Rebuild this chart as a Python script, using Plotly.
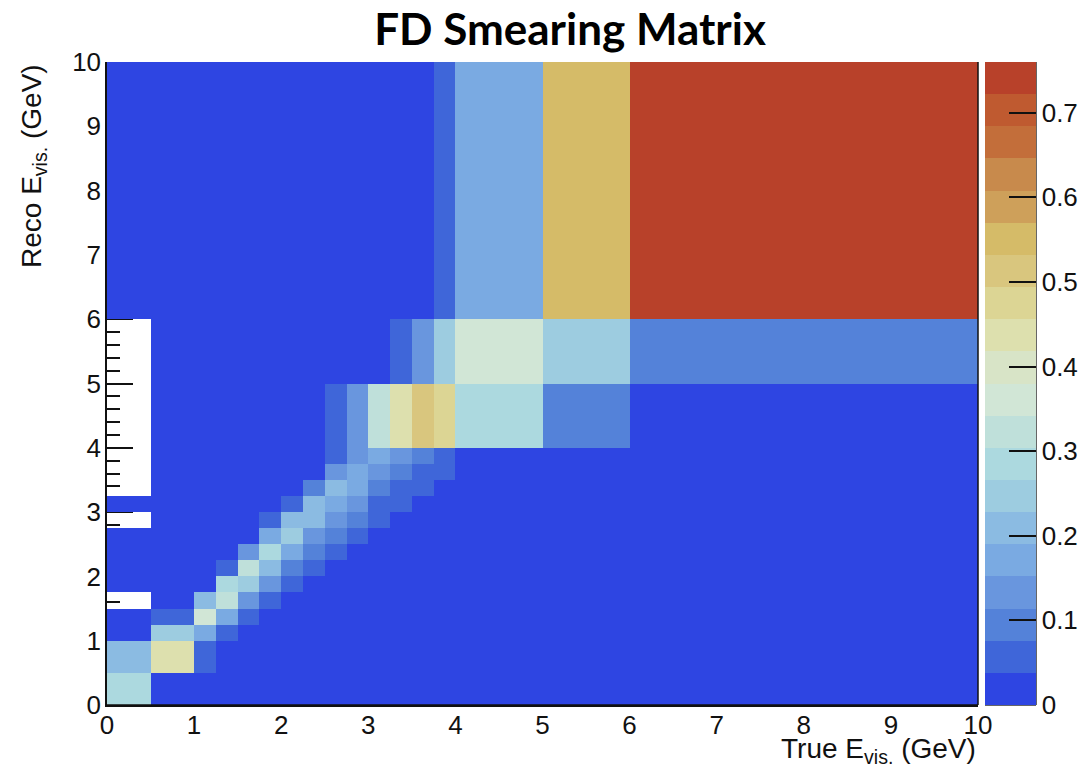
import plotly.graph_objects as go

# ---- data ----
x_edges = [0, 0.5, 1.0, 1.25, 1.5, 1.75, 2.0, 2.25, 2.5, 2.75, 3.0, 3.25, 3.5, 3.75, 4.0, 5.0, 6.0, 10.0]
y_edges = [0, 0.5, 1.0, 1.25, 1.5, 1.75, 2.0, 2.25, 2.5, 2.75, 3.0, 3.25, 3.5, 3.75, 4.0, 5.0, 6.0, 10.0]
N = None
# z[row = reco bin][col = true bin]; None = empty bin (drawn white)
z = [
    [0.28, 0.01, 0.01, 0.01, 0.01, 0.01, 0.01, 0.01, 0.01, 0.01, 0.01, 0.01, 0.01, 0.01, 0.01, 0.01, 0.01],
    [0.21, 0.44, 0.06, 0.01, 0.01, 0.01, 0.01, 0.01, 0.01, 0.01, 0.01, 0.01, 0.01, 0.01, 0.01, 0.01, 0.01],
    [0.01, 0.25, 0.17, 0.06, 0.01, 0.01, 0.01, 0.01, 0.01, 0.01, 0.01, 0.01, 0.01, 0.01, 0.01, 0.01, 0.01],
    [0.01, 0.06, 0.36, 0.17, 0.06, 0.01, 0.01, 0.01, 0.01, 0.01, 0.01, 0.01, 0.01, 0.01, 0.01, 0.01, 0.01],
    [N,    0.01, 0.21, 0.32, 0.13, 0.06, 0.01, 0.01, 0.01, 0.01, 0.01, 0.01, 0.01, 0.01, 0.01, 0.01, 0.01],
    [0.01, 0.01, 0.01, 0.28, 0.25, 0.13, 0.06, 0.01, 0.01, 0.01, 0.01, 0.01, 0.01, 0.01, 0.01, 0.01, 0.01],
    [0.01, 0.01, 0.01, 0.06, 0.32, 0.21, 0.09, 0.06, 0.01, 0.01, 0.01, 0.01, 0.01, 0.01, 0.01, 0.01, 0.01],
    [0.01, 0.01, 0.01, 0.01, 0.13, 0.28, 0.17, 0.09, 0.06, 0.01, 0.01, 0.01, 0.01, 0.01, 0.01, 0.01, 0.01],
    [0.01, 0.01, 0.01, 0.01, 0.01, 0.17, 0.25, 0.13, 0.09, 0.06, 0.01, 0.01, 0.01, 0.01, 0.01, 0.01, 0.01],
    [N,    0.01, 0.01, 0.01, 0.01, 0.06, 0.21, 0.21, 0.13, 0.09, 0.06, 0.01, 0.01, 0.01, 0.01, 0.01, 0.01],
    [0.01, 0.01, 0.01, 0.01, 0.01, 0.01, 0.06, 0.21, 0.17, 0.13, 0.06, 0.06, 0.01, 0.01, 0.01, 0.01, 0.01],
    [N,    0.01, 0.01, 0.01, 0.01, 0.01, 0.01, 0.09, 0.21, 0.17, 0.09, 0.06, 0.06, 0.01, 0.01, 0.01, 0.01],
    [N,    0.01, 0.01, 0.01, 0.01, 0.01, 0.01, 0.01, 0.13, 0.17, 0.13, 0.09, 0.06, 0.06, 0.01, 0.01, 0.01],
    [N,    0.01, 0.01, 0.01, 0.01, 0.01, 0.01, 0.01, 0.06, 0.13, 0.17, 0.13, 0.09, 0.06, 0.01, 0.01, 0.01],
    [N,    0.01, 0.01, 0.01, 0.01, 0.01, 0.01, 0.01, 0.06, 0.13, 0.32, 0.44, 0.51, 0.47, 0.28, 0.09, 0.01],
    [N,    0.01, 0.01, 0.01, 0.01, 0.01, 0.01, 0.01, 0.01, 0.01, 0.01, 0.06, 0.13, 0.25, 0.36, 0.25, 0.09],
    [0.01, 0.01, 0.01, 0.01, 0.01, 0.01, 0.01, 0.01, 0.01, 0.01, 0.01, 0.01, 0.01, 0.06, 0.17, 0.55, 0.74],
]
z_min, z_max = 0.0, 0.76
x_ticks = [0, 1, 2, 3, 4, 5, 6, 7, 8, 9, 10]
y_ticks = [0, 1, 2, 3, 4, 5, 6, 7, 8, 9, 10]
cb_ticks = [0, 0.1, 0.2, 0.3, 0.4, 0.5, 0.6, 0.7]
cb_ticklabels = ["0", "0.1", "0.2", "0.3", "0.4", "0.5", "0.6", "0.7"]

# ---- palette: 20 discrete contour levels ----
palette = [
    "#2e45e2", "#3f66d9", "#5482d9", "#6996de", "#7aaae2",
    "#8bbbe2", "#9dcce0", "#acd9df", "#bfe0da", "#d1e6d6",
    "#d8e4c7", "#dde0ae", "#dcd594", "#d9c67e", "#d5bb68",
    "#cea05a", "#c88a4c", "#c36e3a", "#bf5a30", "#b8412a",
]
n = len(palette)
colorscale = []
for i, c in enumerate(palette):
    colorscale.append([i / n, c])
    colorscale.append([(i + 1) / n, c])

W, H = 1081, 774
L, T = 107, 62
R = W - 978
B = H - 705
pw = W - L - R
ph = H - T - B

tick_font = dict(family="Liberation Sans, Arial, sans-serif", size=26, color="#111")

fig = go.Figure()
fig.add_trace(go.Heatmap(
    x=x_edges, y=y_edges, z=z,
    zmin=z_min, zmax=z_max, colorscale=colorscale,
    hoverongaps=False,
    colorbar=dict(
        x=(985 - L) / pw, xanchor="left", xpad=0,
        y=0.5, yanchor="middle", ypad=0, len=1, lenmode="fraction",
        thickness=51, thicknessmode="pixels",
        outlinewidth=0,
        tickmode="array", tickvals=cb_ticks, ticktext=cb_ticklabels,
        ticks="inside", ticklen=27, tickwidth=1.5, tickcolor="#111",
        tickfont=tick_font, ticklabelposition="outside",
    ),
))

fig.update_layout(
    width=W, height=H,
    margin=dict(l=L, r=R, t=T, b=B, pad=0, autoexpand=False),
    paper_bgcolor="white", plot_bgcolor="white",
    title=dict(text="<b>FD Smearing Matrix</b>", x=570 / W, xanchor="center",
               y=1 - 30 / H, yanchor="middle", yref="container",
               font=dict(family="Lato, Carlito, sans-serif", size=44, color="black")),
    xaxis=dict(range=[0, 10], tickmode="array", tickvals=x_ticks,
               ticks="inside", ticklen=26, tickwidth=1.5, tickcolor="#111",
               minor=dict(dtick=0.2, ticks="inside", ticklen=13, tickwidth=1.5, tickcolor="#111"),
               showgrid=False, zeroline=False, showline=True, linecolor="#111", linewidth=1.5,
               layer="below traces", tickfont=tick_font, ticklabelstandoff=-4),
    yaxis=dict(range=[0, 10], tickmode="array", tickvals=y_ticks,
               ticks="inside", ticklen=26, tickwidth=1.5, tickcolor="#111",
               minor=dict(dtick=0.2, ticks="inside", ticklen=13, tickwidth=1.5, tickcolor="#111"),
               showgrid=False, zeroline=False, showline=True, linecolor="#111", linewidth=1.5,
               layer="below traces", tickfont=tick_font, ticklabelstandoff=-1),
    showlegend=False,
)

# frame lines (bottom, right) and colorbar edge lines
cb_right = (1036 - L) / pw
cb_left = (985 - L) / pw
shapes = [
    dict(type="line", xref="paper", yref="paper", x0=0, x1=1, y0=0, y1=0,
         line=dict(color="#111", width=1.5)),
    dict(type="line", xref="paper", yref="paper", x0=1, x1=1, y0=0, y1=1,
         line=dict(color="#111", width=1.5)),
    dict(type="line", xref="paper", yref="paper", x0=cb_right, x1=cb_right, y0=0, y1=1,
         line=dict(color="#333", width=1.5)),
    dict(type="line", xref="paper", yref="paper", x0=cb_left, x1=cb_right, y0=0, y1=0,
         line=dict(color="#333", width=1.5)),
]
fig.update_layout(shapes=shapes)

axis_title_font = dict(family="Liberation Sans, Arial, sans-serif", size=28, color="#111")
fig.add_annotation(text="True E<sub>vis.</sub> (GeV)", xref="paper", yref="paper",
                   x=1, xanchor="right", y=(705 - 750) / ph, yanchor="middle",
                   showarrow=False, font=axis_title_font)
fig.add_annotation(text="Reco E<sub>vis.</sub> (GeV)", xref="paper", yref="paper",
                   x=(33 - L) / pw, xanchor="center", y=1, yanchor="top", textangle=-90,
                   showarrow=False, font=axis_title_font)

# remove the default page margin so the figure sits at the window origin
fig.write_html("out.html", config={"displayModeBar": False},
               post_script="document.body.style.margin='0';document.body.style.overflow='hidden';")
